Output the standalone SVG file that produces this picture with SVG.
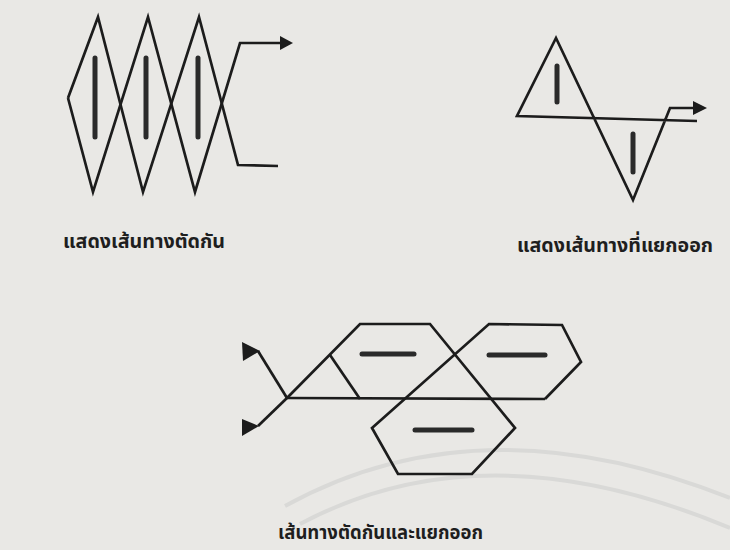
<svg xmlns="http://www.w3.org/2000/svg" width="730" height="550" viewBox="0 0 730 550">
<style>
.ln{fill:none;stroke:#1c1c1c;stroke-width:2.7;stroke-linejoin:miter;stroke-linecap:butt}
.bar{stroke:#2a2a2a;stroke-width:5;stroke-linecap:round}
.hd{fill:#1c1c1c}
.lbl{font-family:"Noto Sans Thai","Noto Sans","Liberation Sans","DejaVu Sans",sans-serif;font-weight:bold;fill:#1e1e1e;font-size:20px}
.wm{fill:none;stroke:#d9d9d7;stroke-width:4}
</style>
<rect width="730" height="550" fill="#e9e8e5"/>
<g id="watermark">
<path class="wm" d="M 285 506 Q 480 398 730 498"/>
<path class="wm" d="M 300 524 Q 485 425 730 528"/>
</g>
<g id="crossing">
<polyline class="ln" points="68,98 98,17 143,192 199,17 238,165 278,166"/>
<polyline class="ln" points="68,98 93,192 148,17 195,192 240,43 282,43"/>
<polygon class="hd" points="280,36 293,43 280,50"/>
<line class="bar" x1="95" y1="58" x2="95" y2="137"/>
<line class="bar" x1="146" y1="58" x2="146" y2="137"/>
<line class="bar" x1="198" y1="58" x2="198" y2="137"/>
</g>
<g id="diverging">
<polyline class="ln" points="697,121 517,116 556,38 633,200 670,108 695,108"/>
<polygon class="hd" points="693,101 707,108 693,115"/>
<line class="bar" x1="557" y1="66" x2="557" y2="102"/>
<line class="bar" x1="633" y1="134" x2="633" y2="172"/>
</g>
<g id="combined">
<line class="ln" x1="287" y1="398" x2="545" y2="399"/>
<polyline class="ln" points="287,398 360,324 430,324 515,428 472,474 398,474 372,428 489,324 562,325 581,362 545,399"/>
<line class="ln" x1="330" y1="355" x2="360" y2="399"/>
<polyline class="ln" points="287,398 258,351"/>
<polyline class="ln" points="287,398 258,426"/>
<polygon class="hd" points="242,342 260,351 243,361"/>
<polygon class="hd" points="242,419 259,426 242,436"/>
<line class="bar" x1="362" y1="354" x2="414" y2="354"/>
<line class="bar" x1="489" y1="355" x2="545" y2="355"/>
<line class="bar" x1="415" y1="430" x2="472" y2="430"/>
</g>
<g id="labels">
<text class="lbl" x="63" y="248" textLength="162" lengthAdjust="spacingAndGlyphs">แสดงเส้นทางตัดกัน</text>
<text class="lbl" x="517" y="252" textLength="196" lengthAdjust="spacingAndGlyphs">แสดงเส้นทางที่แยกออก</text>
<text class="lbl" x="278" y="539" textLength="205" lengthAdjust="spacingAndGlyphs">เส้นทางตัดกันและแยกออก</text>
</g>
</svg>
